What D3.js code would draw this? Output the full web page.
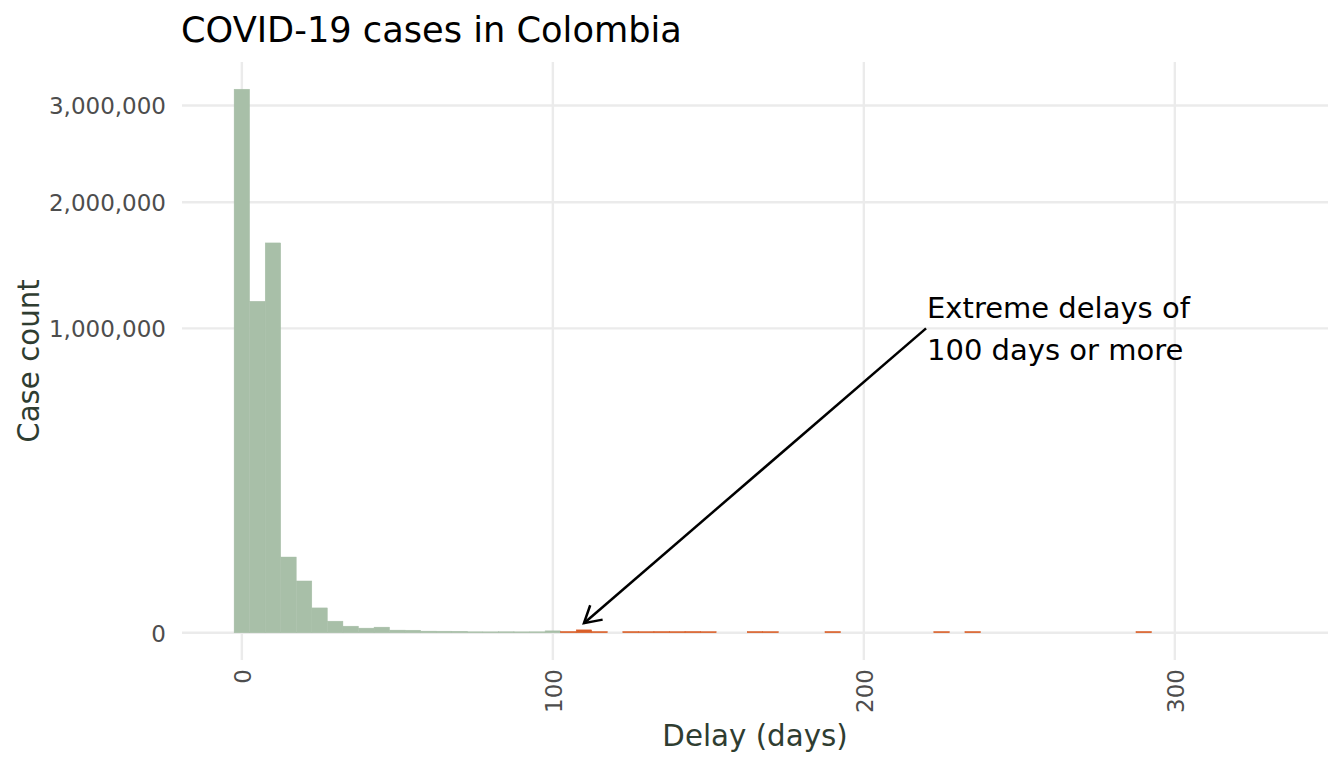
<!DOCTYPE html>
<html>
<head>
<meta charset="utf-8">
<script src="https://cdn.jsdelivr.net/npm/d3@7"></script>
<style>
  html, body { margin: 0; padding: 0; background: #fff; }
  svg text { font-family: "DejaVu Sans", sans-serif; }
</style>
</head>
<body>
<div id="chart"></div>
<script>
// histogram of delays, 5-day bins (bin centres in days)
const binCenters = [
  0, 5, 10, 15, 20, 25, 30, 35, 40, 45, 50, 55, 60, 65, 70, 75, 80, 85, 90, 95,
  100, 105, 110, 115, 120, 125, 130, 135, 140, 145, 150, 155, 160, 165, 170, 175,
  180, 185, 190, 195, 200, 205, 210, 215, 220, 225, 230, 235, 240, 245, 250, 255,
  260, 265, 270, 275, 280, 285, 290, 295, 300, 305, 310, 315, 320, 325, 330
];
const caseCounts = [
  3188000, 1186000, 1640000, 62000, 29000, 6700, 1470, 480, 240, 350, 80, 75, 32, 30, 28, 11, 10, 12, 10, 11,
  42, 22, 95, 20, 0, 21, 18, 20, 19, 22, 18, 0, 0, 21, 19, 0,
  0, 0, 22, 0, 0, 0, 0, 0, 0, 20, 0, 21, 0, 0, 0, 0,
  0, 0, 0, 0, 0, 0, 22, 0, 0, 0, 0, 0, 0, 0, 0
];
const binWidth = 5;
const extremeDelay = 100;
const xTicks = [0, 100, 200, 300];
const yTicks = [0, 1000000, 2000000, 3000000];
const annotationLines = ["Extreme delays of", "100 days or more"];
const annotationFrom = { delay: 220, count: 1000000 };
const annotationTo = { delay: 110, count: 1000 };

const width = 1344, height = 768;
const panel = { left: 182, right: 1328, top: 62, bottom: 660 };
const colors = { normal: "#a8bfa8", extreme: "#d95f28", grid: "#ebebeb" };

const bins = binCenters.map((c, i) => ({
  x0: c - binWidth / 2,
  x1: c + binWidth / 2,
  count: caseCounts[i]
}));

const svg = d3.select("#chart").append("svg")
  .attr("width", width)
  .attr("height", height);

// x: linear with 5% expansion like ggplot
const xMin = d3.min(bins, d => d.x0), xMax = d3.max(bins, d => d.x1);
const xPad = (xMax - xMin) * 0.05;
const x = d3.scaleLinear()
  .domain([xMin - xPad, xMax + xPad])
  .range([panel.left, panel.right]);

// y: square-root scale, expanded in transformed space
const sMax = Math.sqrt(d3.max(caseCounts));
const sPad = sMax * 0.05;
const y = d3.scalePow().exponent(0.5)
  .domain([-(sPad * sPad), (sMax + sPad) * (sMax + sPad)])
  .range([panel.bottom, panel.top]);

// grid
const grid = svg.append("g").attr("class", "grid");
grid.selectAll(".gx").data(xTicks).join("line")
  .attr("x1", d => x(d)).attr("x2", d => x(d))
  .attr("y1", panel.top).attr("y2", panel.bottom)
  .attr("stroke", colors.grid).attr("stroke-width", 2.4);
grid.selectAll(".gy").data(yTicks).join("line")
  .attr("x1", panel.left).attr("x2", panel.right)
  .attr("y1", d => y(d)).attr("y2", d => y(d))
  .attr("stroke", colors.grid).attr("stroke-width", 2.4);

// bars
const barColor = d => d.x0 >= extremeDelay ? colors.extreme : colors.normal;
svg.append("g").selectAll("rect")
  .data(bins.filter(d => d.count > 0))
  .join("rect")
  .attr("x", d => x(d.x0))
  .attr("width", d => x(d.x1) - x(d.x0))
  .attr("y", d => y(d.count))
  .attr("height", d => y(0) - y(d.count))
  .attr("fill", barColor)
  .attr("stroke", barColor)
  .attr("stroke-width", 0.4);

// axes (text only, theme_minimal style)
const xAxis = svg.append("g")
  .attr("transform", `translate(0,${panel.bottom})`)
  .call(d3.axisBottom(x).tickValues(xTicks).tickSize(0).tickFormat(d3.format("d")));
xAxis.select(".domain").remove();
xAxis.selectAll("text")
  .attr("transform", "rotate(-90)")
  .attr("x", -9)
  .attr("y", 0)
  .attr("dy", "0.36em")
  .attr("text-anchor", "end")
  .attr("fill", "#4d4d4d")
  .attr("font-size", 23)
  .attr("font-family", "DejaVu Sans, sans-serif");

const yAxis = svg.append("g")
  .attr("transform", `translate(${panel.left},0)`)
  .call(d3.axisLeft(y).tickValues(yTicks).tickSize(0).tickFormat(d3.format(",")));
yAxis.select(".domain").remove();
yAxis.selectAll("text")
  .attr("x", -16)
  .attr("dy", "0.36em")
  .attr("fill", "#4d4d4d")
  .attr("font-size", 23)
  .attr("font-family", "DejaVu Sans, sans-serif");

// titles
svg.append("text")
  .attr("x", 181).attr("y", 42)
  .attr("font-size", 35.2)
  .attr("fill", "#000")
  .text("COVID-19 cases in Colombia");

svg.append("text")
  .attr("x", (panel.left + panel.right) / 2).attr("y", 746)
  .attr("text-anchor", "middle")
  .attr("font-size", 29.3)
  .attr("fill", "#2f3d31")
  .text("Delay (days)");

svg.append("text")
  .attr("transform", `translate(39,${(panel.top + panel.bottom) / 2}) rotate(-90)`)
  .attr("text-anchor", "middle")
  .attr("font-size", 29.3)
  .attr("fill", "#2f3d31")
  .text("Case count");

// annotation arrow
const ax0 = x(annotationFrom.delay), ay0 = y(annotationFrom.count);
const ax1 = x(annotationTo.delay), ay1 = y(annotationTo.count);
const ang = Math.atan2(ay1 - ay0, ax1 - ax0);
const headLen = 19, headAng = Math.PI / 6;
const arrow = svg.append("g")
  .attr("stroke", "#000").attr("stroke-width", 2.5)
  .attr("fill", "none").attr("stroke-linecap", "butt");
arrow.append("line")
  .attr("x1", ax0).attr("y1", ay0).attr("x2", ax1).attr("y2", ay1);
arrow.append("polyline")
  .attr("points", [
    [ax1 - headLen * Math.cos(ang - headAng), ay1 - headLen * Math.sin(ang - headAng)],
    [ax1, ay1],
    [ax1 - headLen * Math.cos(ang + headAng), ay1 - headLen * Math.sin(ang + headAng)]
  ].map(p => p.join(",")).join(" "));

const note = svg.append("text")
  .attr("x", ax0 + 1)
  .attr("font-size", 29)
  .attr("fill", "#000");
note.selectAll("tspan").data(annotationLines).join("tspan")
  .attr("x", ax0 + 1)
  .attr("y", (d, i) => ay0 - 10 + i * 42)
  .text(d => d);
</script>
</body>
</html>
